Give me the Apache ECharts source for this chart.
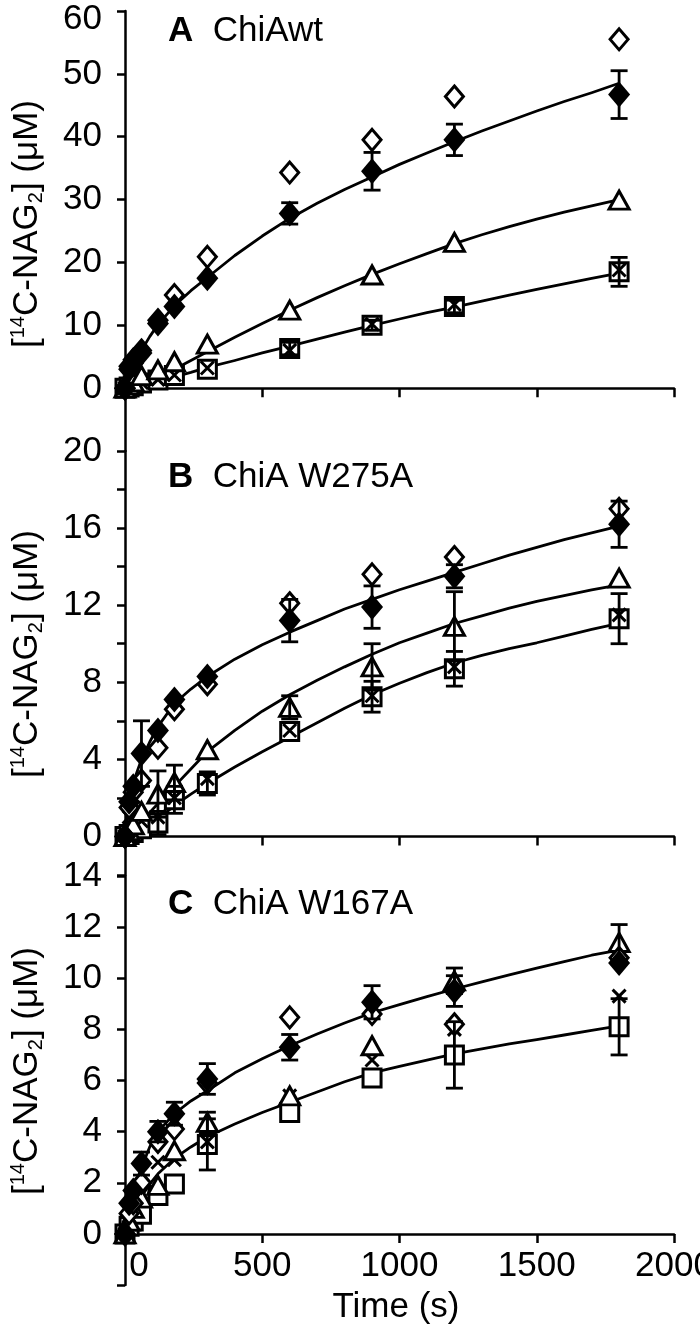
<!DOCTYPE html>
<html>
<head>
<meta charset="utf-8">
<script src="https://cdn.jsdelivr.net/npm/echarts@6/dist/echarts.min.js"></script>
<style>html,body{margin:0;padding:0;background:#fff;}#c{width:700px;height:1330px;}</style>
</head>
<body>
<div id="c"></div>
<script>
// ---------- DATA ----------
const T = [0, 15, 30, 60, 120, 180, 300, 600, 900, 1200, 1800];
const FIT_T = [0, 15, 30, 60, 90, 120, 180, 240, 300, 400, 500, 600, 700, 800, 900, 1000, 1100, 1200, 1300, 1400, 1500, 1600, 1700, 1800];
const X_TICK_LABELS = [0, 500, 1000, 1500, 2000];
const Y_LABELS_A = [0, 10, 20, 30, 40, 50, 60];
const Y_LABELS_B = [0, 4, 8, 12, 16, 20];
const Y_LABELS_C = [0, 2, 4, 6, 8, 10, 12, 14];
const PANEL_TITLES = [['A', 'ChiAwt'], ['B', 'ChiA W275A'], ['C', 'ChiA W167A']];
const X_NAME = 'Time (s)';

// Panel A (ChiAwt)
const aFilled    = [0, 3.0, 4.0, 5.6, 10.3, 13.0, 17.5, 27.8, 34.5, 39.5, 46.7];
const aFilledErr = [null, null, null, null, null, null, null, 1.7, 3.0, 2.5, 3.8];
const aOpen      = [0, 3.5, 4.5, 6.0, 10.8, 14.8, 20.9, 34.3, 39.5, 46.4, 55.5];
const aTri       = [0, 0.5, 1.0, 2.0, 2.9, 4.2, 7.0, 12.4, 18.0, 23.2, 29.9];
const aSq        = [0, 0.2, 0.4, 0.8, 1.3, 2.0, 3.0, 6.3, 10.0, 13.0, 18.5];
const aSqErr     = [null, null, null, null, null, null, null, 1.0, 0.8, 1.0, 2.3];
const aCross     = [0, 0.2, 0.5, 0.9, 1.4, 2.1, 3.2, 6.0, 10.2, 13.3, 18.8];
const aFitFilled = [0, 2.0, 3.5, 6.0, 8.2, 10.1, 13.1, 15.5, 17.6, 21.1, 24.2, 27.0, 29.4, 31.6, 33.6, 35.6, 37.4, 39.2, 40.9, 42.5, 44.1, 45.6, 47.0, 48.5];
const aFitTri    = [0, 0.1, 0.3, 0.8, 1.3, 1.8, 3.0, 4.4, 5.8, 8.1, 10.3, 12.4, 14.4, 16.3, 18.1, 19.8, 21.4, 23.0, 24.4, 25.7, 26.9, 28.0, 29.0, 30.0];
const aFitSq     = [0, 0.1, 0.2, 0.5, 0.8, 1.1, 1.8, 2.5, 3.3, 4.4, 5.6, 6.7, 7.8, 8.9, 10.0, 11.0, 12.0, 12.9, 13.85, 14.8, 15.7, 16.6, 17.45, 18.3];

// Panel B (ChiA W275A)
const bFilled    = [0, 1.8, 2.6, 4.3, 5.5, 7.1, 8.3, 11.2, 11.9, 13.5, 16.2];
const bFilledErr = [null, null, null, 1.7, null, null, null, 1.1, 1.1, 0.6, 1.2];
const bOpen      = [0, 1.5, 2.3, 2.9, 4.6, 6.6, 7.9, 12.1, 13.6, 14.5, 17.0];
const bTri       = [0, 0.3, 0.6, 1.3, 2.2, 2.8, 4.5, 6.7, 8.8, 10.9, 13.4];
const bTriErr    = [null, null, null, null, 1.2, 0.9, null, 0.6, 1.2, 1.8, null];
const bSq        = [0, 0.1, 0.2, 0.4, 0.7, 1.9, 2.75, 5.45, 7.25, 8.7, 11.3];
const bSqErr     = [null, null, null, null, 0.6, 0.7, 0.6, null, 0.8, 0.9, 1.3];
const bCross     = [0, 1.0, 1.5, 0.8, 1.0, 2.0, 3.0, 5.5, 7.3, 8.8, 11.5];
const bFitFilled = [0, 1.8, 2.8, 4.0, 4.9, 5.7, 6.9, 7.65, 8.3, 9.2, 9.95, 10.6, 11.2, 11.8, 12.3, 12.8, 13.25, 13.7, 14.15, 14.6, 15.0, 15.4, 15.75, 16.1];
const bFitTri    = [0, 0.15, 0.35, 0.8, 1.25, 1.7, 2.6, 3.5, 4.4, 5.5, 6.5, 7.35, 8.1, 8.8, 9.45, 10.05, 10.55, 11.05, 11.45, 11.85, 12.2, 12.5, 12.8, 13.05];
const bFitSq     = [0, 0.05, 0.15, 0.4, 0.65, 0.9, 1.6, 2.2, 2.75, 3.6, 4.4, 5.15, 5.9, 6.65, 7.35, 7.95, 8.5, 9.0, 9.4, 9.75, 10.05, 10.4, 10.75, 11.05];

// Panel C (ChiA W167A)
const cFilled    = [0, 1.2, 1.7, 2.75, 4.0, 4.7, 6.06, 7.3, 9.06, 9.5, 10.6];
const cFilledErr = [null, null, null, 0.45, 0.4, 0.45, 0.6, 0.5, 0.65, 0.6, null];
const cOpen      = [0, 0.8, 1.2, 2.0, 3.6, 4.1, 5.9, 8.47, 8.6, 8.2, 10.8];
const cTri       = [0, 0.5, 1.0, 1.4, 1.9, 3.25, 4.36, 5.4, 7.36, 9.9, 11.4];
const cTriErr    = [null, null, null, null, null, null, 0.4, null, null, 0.5, 0.7];
const cSq        = [0, 0.3, 0.5, 0.77, 1.5, 1.95, 3.5, 4.75, 6.1, 7.0, 8.1];
const cSqErr     = [null, null, null, null, null, null, 1.0, null, null, 1.3, 1.1];
const cCross     = [0, 0.7, 1.0, 1.6, 2.8, 2.9, 3.6, 5.4, 6.8, 8.0, 9.3];
const cFitUpper  = [0, 1.1, 1.7, 2.6, 3.4, 4.0, 4.7, 5.2, 5.6, 6.3, 6.85, 7.36, 7.82, 8.25, 8.65, 8.97, 9.28, 9.58, 9.86, 10.13, 10.4, 10.65, 10.9, 11.1];
const cFitLower  = [0, 0.45, 0.85, 1.45, 1.95, 2.35, 2.95, 3.4, 3.8, 4.3, 4.75, 5.15, 5.55, 5.95, 6.3, 6.55, 6.8, 7.04, 7.24, 7.43, 7.6, 7.78, 7.96, 8.14];

// ---------- BUILD ----------
const FONT = 'Liberation Sans, Arial, sans-serif';
const BLACK = '#000';

function pts(vals) { return T.map((t, i) => vals[i] == null ? null : [t, vals[i]]).filter(Boolean); }
function fitPts(vals) { return FIT_T.map((t, i) => [t, vals[i]]); }
function errPts(vals, e) {
  return T.map((t, i) => e[i] == null ? null : [t, vals[i] - e[i], vals[i] + e[i]]).filter(Boolean);
}

const CROSS = 'path://M0,0L10,10M10,0L0,10';

function markerSeries(idx, name, vals, kind) {
  const base = { type: 'scatter', name: name, xAxisIndex: idx, yAxisIndex: idx, data: pts(vals), z: 3, animation: false, clip: false };
  const hollow = { color: '#fff', borderColor: BLACK, borderWidth: 3, opacity: 1 };
  if (kind === 'filled') return Object.assign(base, { symbol: 'diamond', symbolSize: [22, 26], itemStyle: { color: BLACK, opacity: 1 }, z: 6 });
  if (kind === 'open') return Object.assign(base, { symbol: 'diamond', symbolSize: [18, 21], itemStyle: hollow, z: 5 });
  if (kind === 'tri') return Object.assign(base, { symbol: 'triangle', symbolSize: [20, 18], itemStyle: hollow, z: 4 });
  if (kind === 'sq') return Object.assign(base, { symbol: 'rect', symbolSize: [18, 18], itemStyle: hollow, z: 3 });
  if (kind === 'cross') return Object.assign(base, { symbol: CROSS, symbolSize: [13, 13], itemStyle: { color: 'none', borderColor: BLACK, borderWidth: 3, opacity: 1 }, z: 4 });
}
function fitSeries(idx, vals) {
  return { type: 'line', xAxisIndex: idx, yAxisIndex: idx, data: fitPts(vals), smooth: false,
    showSymbol: false, symbol: 'none', lineStyle: { color: BLACK, width: 2.8, join: 'round' }, z: 2, animation: false, silent: true };
}
function errSeries(idx, vals, e) {
  return {
    type: 'custom', xAxisIndex: idx, yAxisIndex: idx, data: errPts(vals, e), z: 7, animation: false, silent: true, clip: false,
    encode: { x: 0, y: [1, 2] },
    renderItem: function (params, api) {
      const x = api.value(0), lo = api.value(1), hi = api.value(2);
      const p1 = api.coord([x, lo]), p2 = api.coord([x, hi]);
      const w = 8.5, st = { stroke: BLACK, lineWidth: 2.8 };
      return { type: 'group', children: [
        { type: 'line', shape: { x1: p1[0], y1: p1[1], x2: p2[0], y2: p2[1] }, style: st },
        { type: 'line', shape: { x1: p1[0] - w, y1: p1[1], x2: p1[0] + w, y2: p1[1] }, style: st },
        { type: 'line', shape: { x1: p2[0] - w, y1: p2[1], x2: p2[0] + w, y2: p2[1] }, style: st }
      ] };
    }
  };
}

const grids = [
  { left: 125, right: 26, top: 11, height: 440, outerBoundsMode: 'none', containLabel: false },
  { left: 125, right: 26, top: 451, height: 424, outerBoundsMode: 'none', containLabel: false },
  { left: 125, right: 26, top: 876, height: 409, outerBoundsMode: 'none', containLabel: false }
];
const yCfg = [
  { min: -10, max: 60, interval: 10, labels: Y_LABELS_A },
  { min: -2, max: 20, interval: 2, labels: Y_LABELS_B },
  { min: -2, max: 14, interval: 2, labels: Y_LABELS_C }
];

const axisLineStyle = { color: BLACK, width: 2.5 };

// x axis drawn at y = 0: offset up from the grid bottom by the zero position on each y scale
const xAxes = grids.map((g, i) => ({
  type: 'value', gridIndex: i, min: 0, max: 2000, interval: 500,
  offset: -g.height * (0 - yCfg[i].min) / (yCfg[i].max - yCfg[i].min),
  axisLine: { show: true, onZero: false, lineStyle: axisLineStyle },
  axisTick: { show: true, inside: false, length: 9, lineStyle: axisLineStyle },
  splitLine: { show: false },
  axisLabel: {
    show: i === 2, color: BLACK, fontFamily: FONT, fontSize: 35, margin: 15, hideOverlap: false,
    formatter: v => X_TICK_LABELS.indexOf(v) < 0 ? '' : (v === 0 ? '{z|0}' : String(v)),
    rich: { z: { fontFamily: FONT, fontSize: 35, color: BLACK, padding: [0, 0, 0, 28] } }
  }
}));

const yAxes = yCfg.map((c, i) => ({
  type: 'value', gridIndex: i, min: c.min, max: c.max, interval: c.interval,
  axisLine: { show: true, onZero: false, lineStyle: axisLineStyle },
  axisTick: { show: true, inside: false, length: 8, lineStyle: axisLineStyle },
  splitLine: { show: false },
  axisLabel: {
    color: BLACK, fontFamily: FONT, fontSize: 35, margin: 23, showMinLabel: true, showMaxLabel: true,
    formatter: v => {
      if (c.labels.indexOf(v) < 0) return '';
      if (i === 0 && v === 60) return '{t|60}';
      return String(v);
    },
    rich: { t: { fontFamily: FONT, fontSize: 35, color: BLACK, padding: [16, 0, 0, 0] } }
  }
}));

const series = [
  // Panel A
  fitSeries(0, aFitFilled), fitSeries(0, aFitTri), fitSeries(0, aFitSq),
  markerSeries(0, 'sq', aSq, 'sq'), markerSeries(0, 'cross', aCross, 'cross'),
  markerSeries(0, 'tri', aTri, 'tri'), markerSeries(0, 'open', aOpen, 'open'),
  markerSeries(0, 'filled', aFilled, 'filled'),
  errSeries(0, aFilled, aFilledErr), errSeries(0, aSq, aSqErr),
  // Panel B
  fitSeries(1, bFitFilled), fitSeries(1, bFitTri), fitSeries(1, bFitSq),
  markerSeries(1, 'sq', bSq, 'sq'), markerSeries(1, 'cross', bCross, 'cross'),
  markerSeries(1, 'tri', bTri, 'tri'), markerSeries(1, 'open', bOpen, 'open'),
  markerSeries(1, 'filled', bFilled, 'filled'),
  errSeries(1, bFilled, bFilledErr), errSeries(1, bTri, bTriErr), errSeries(1, bSq, bSqErr),
  // Panel C
  fitSeries(2, cFitUpper), fitSeries(2, cFitLower),
  markerSeries(2, 'sq', cSq, 'sq'), markerSeries(2, 'cross', cCross, 'cross'),
  markerSeries(2, 'tri', cTri, 'tri'), markerSeries(2, 'open', cOpen, 'open'),
  markerSeries(2, 'filled', cFilled, 'filled'),
  errSeries(2, cFilled, cFilledErr), errSeries(2, cTri, cTriErr), errSeries(2, cSq, cSqErr)
];

const yTitleRich = {
  m: { fontFamily: FONT, fontSize: 35, color: BLACK },
  sup: { fontFamily: FONT, fontSize: 20, color: BLACK, verticalAlign: 'top', lineHeight: 38 },
  sub: { fontFamily: FONT, fontSize: 20, color: BLACK, verticalAlign: 'bottom', lineHeight: 38 }
};
const yTitleText = '{m|[}{sup|14}{m|C-NAG}{sub|2}{m|] (μM)}';
const yTitleCenters = [224, 654, 1071];
const titleCenters = [31, 477, 904];

const graphics = [];
yTitleCenters.forEach(cy => {
  graphics.push({
    type: 'text', x: 27, y: cy, rotation: Math.PI / 2,
    style: { text: yTitleText, rich: yTitleRich, align: 'center', verticalAlign: 'middle', fill: BLACK }
  });
});
PANEL_TITLES.forEach((pt, i) => {
  graphics.push({
    type: 'text', x: 168, y: titleCenters[i],
    style: {
      text: '{b|' + pt[0] + '}{n|  ' + pt[1] + '}',
      rich: {
        b: { fontFamily: FONT, fontSize: 35, fontWeight: 'bold', color: BLACK },
        n: { fontFamily: FONT, fontSize: 35, color: BLACK }
      },
      align: 'left', verticalAlign: 'middle'
    }
  });
});
graphics.push({
  type: 'text', x: 396, y: 1307,
  style: { text: X_NAME, font: '35px ' + FONT, fill: BLACK, align: 'center', verticalAlign: 'middle' }
});

const chart = echarts.init(document.getElementById('c'), null, { renderer: 'canvas' });
chart.setOption({
  animation: false,
  backgroundColor: '#fff',
  grid: grids,
  xAxis: xAxes,
  yAxis: yAxes,
  series: series,
  graphic: graphics
});
</script>
</body>
</html>
